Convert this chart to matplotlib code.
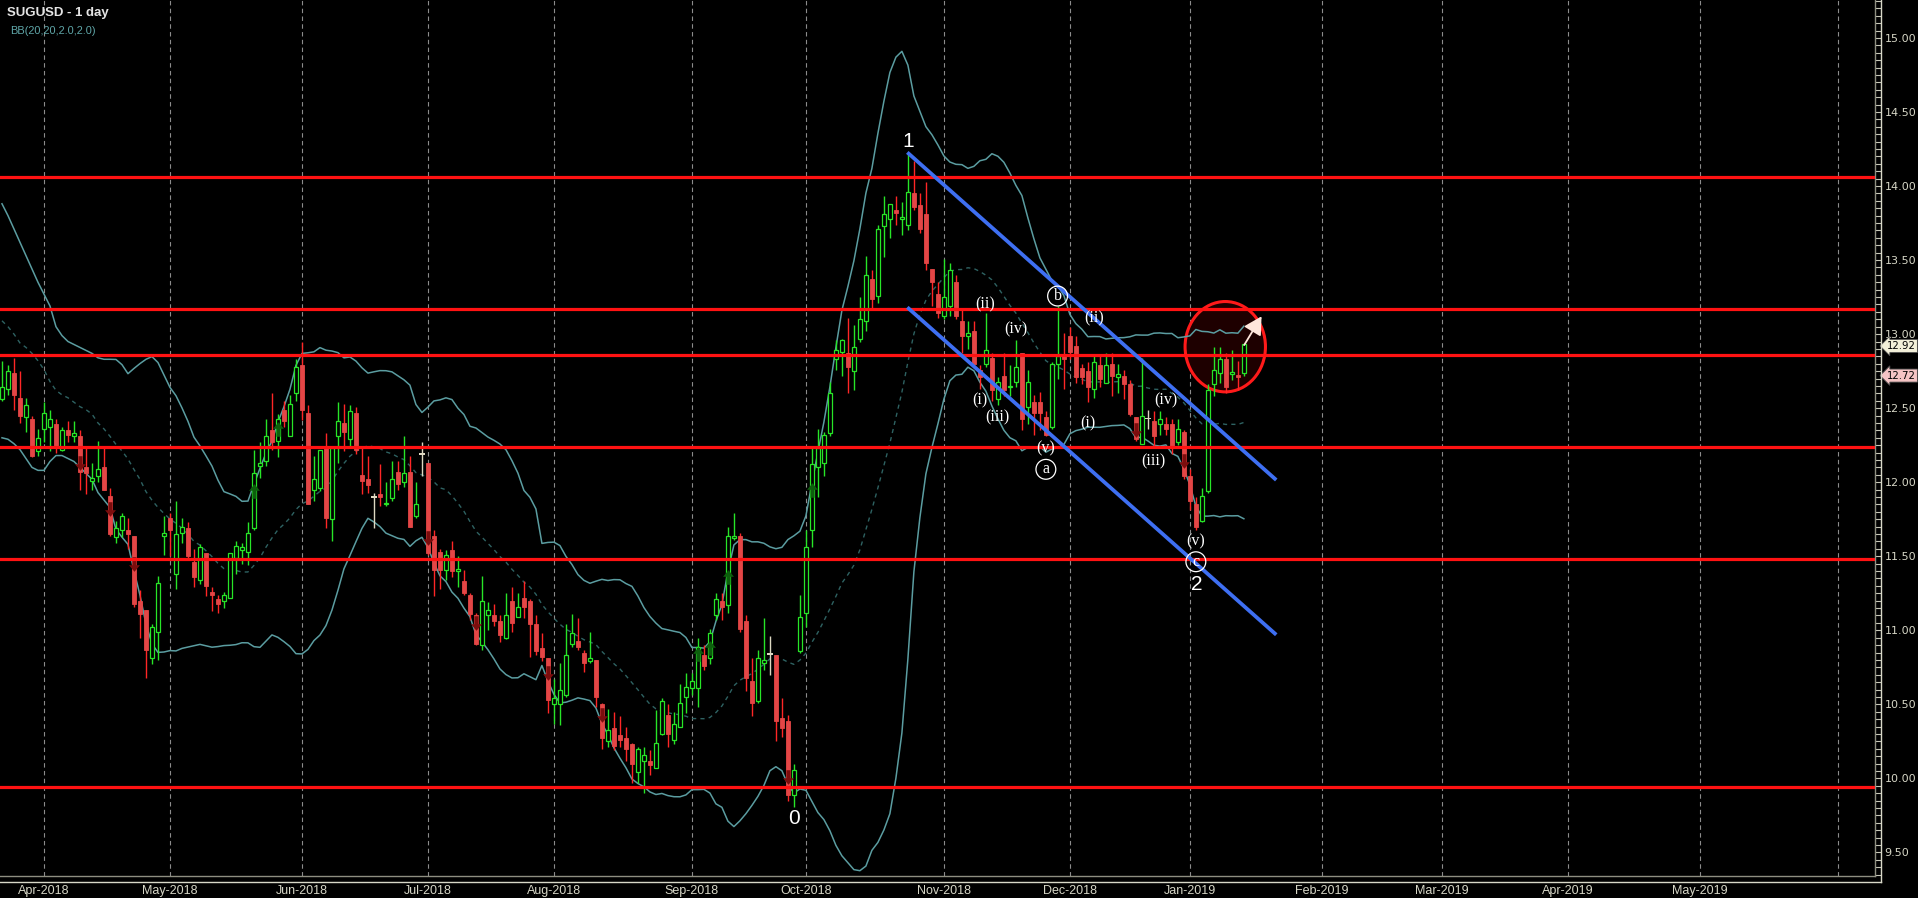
import numpy as np
import pandas as pd
import matplotlib
matplotlib.use('Agg')
import matplotlib.pyplot as plt
from matplotlib.patches import Ellipse
from matplotlib.path import Path
from matplotlib.lines import Line2D
from matplotlib.ticker import FormatStrFormatter
from matplotlib.transforms import blended_transform_factory

# bar index 0 = first trading day of Apr-2018, one bar per trading day
first_bar = -7

opens = [
    12.56, 12.63, 12.74, 12.57, 12.44, 12.43, 12.21,
    12.36, 12.37, 12.39, 12.22, 12.35, 12.31, 12.31, 12.10, 12.01, 12.04,
    12.10, 11.91, 11.63, 11.68, 11.68, 11.64, 11.20, 11.14, 10.81, 10.99,
    11.64, 11.76, 11.38, 11.66, 11.69, 11.46, 11.34, 11.52, 11.26, 11.21,
    11.20, 11.22, 11.49, 11.54, 11.53, 11.69, 12.11, 12.14, 12.35, 12.28,
    12.49, 12.31, 12.60, 12.79, 12.47, 11.95, 11.96, 12.23, 11.75, 12.31,
    12.40, 12.29, 12.47, 12.05, 12.02, 11.90, 11.92, 11.85, 11.89, 12.07,
    12.00, 12.07, 11.77, 12.19, 12.13, 11.64, 11.53, 11.41, 11.54, 11.40,
    11.33, 11.24, 11.10, 10.90, 11.10, 11.10, 11.06, 10.95, 11.20, 11.09,
    11.22, 11.20, 11.04, 10.88, 10.81, 10.50, 10.50, 10.56, 10.91, 10.93,
    10.85, 10.79, 10.80, 10.50, 10.25, 10.34, 10.29, 10.27, 10.23, 10.04,
    10.12, 10.12, 10.07, 10.30, 10.43, 10.26, 10.35, 10.55, 10.61, 10.61,
    10.83, 10.81, 11.10, 11.20, 11.17, 11.62, 11.64, 11.06, 10.66, 10.52,
    10.78, 10.84, 10.83, 10.41, 10.39, 9.89, 10.86, 11.12, 11.68, 12.10,
    12.13, 12.33, 12.83, 12.88, 12.87, 12.75, 12.97, 13.09, 13.37, 13.26,
    13.73, 13.78, 13.84, 13.78, 13.74, 13.95, 13.87, 13.81, 13.44, 13.27,
    13.12, 13.19, 13.35, 13.09, 12.99, 13.02, 12.76, 12.80, 12.84, 12.56,
    12.72, 12.64, 12.68, 12.87, 12.51, 12.54, 12.54, 12.44, 12.37, 12.80,
    12.85, 12.99, 12.92, 12.77, 12.75, 12.63, 12.79, 12.67, 12.80, 12.71,
    12.72, 12.66, 12.44, 12.26, 12.43, 12.41, 12.39, 12.39, 12.39, 12.27,
    12.34, 12.04, 11.85, 11.74, 11.94, 12.66, 12.74, 12.83, 12.73, 12.72, 12.74,
]
highs = [
    12.82, 12.79, 12.84, 12.75, 12.57, 12.45, 12.36,
    12.54, 12.49, 12.43, 12.37, 12.41, 12.41, 12.35, 12.23, 12.13, 12.28,
    12.23, 11.96, 11.74, 11.79, 11.76, 11.64, 11.27, 11.14, 11.04, 11.37,
    11.77, 11.79, 11.87, 11.76, 11.73, 11.55, 11.58, 11.52, 11.29, 11.24,
    11.26, 11.52, 11.60, 11.59, 11.73, 12.22, 12.27, 12.43, 12.60, 12.46,
    12.55, 12.59, 12.83, 12.95, 12.52, 12.18, 12.22, 12.33, 12.23, 12.54,
    12.53, 12.52, 12.51, 12.23, 12.18, 11.93, 12.12, 12.00, 12.14, 12.14,
    12.31, 12.18, 12.00, 12.27, 12.13, 11.68, 11.55, 11.54, 11.60, 11.50,
    11.41, 11.25, 11.12, 11.37, 11.19, 11.18, 11.10, 11.25, 11.29, 11.25,
    11.33, 11.21, 11.10, 10.98, 10.81, 10.67, 10.78, 11.04, 11.11, 11.08,
    10.87, 10.99, 10.80, 10.51, 10.47, 10.45, 10.42, 10.35, 10.24, 10.21,
    10.21, 10.19, 10.46, 10.54, 10.50, 10.45, 10.64, 10.71, 10.71, 10.95,
    10.90, 11.01, 11.25, 11.25, 11.70, 11.79, 11.66, 11.10, 10.81, 10.87,
    11.08, 10.96, 10.83, 10.54, 10.43, 10.10, 11.24, 11.68, 12.23, 12.36,
    12.34, 12.68, 12.96, 12.97, 13.11, 13.06, 13.25, 13.53, 13.43, 13.74,
    13.93, 13.88, 13.93, 13.89, 14.22, 14.17, 13.95, 14.03, 13.44, 13.35,
    13.51, 13.48, 13.40, 13.16, 13.09, 13.09, 12.79, 13.14, 12.87, 12.71,
    12.87, 12.79, 12.96, 12.87, 12.76, 12.59, 12.61, 12.48, 12.81, 13.19,
    13.01, 13.05, 12.99, 12.80, 12.81, 12.85, 12.85, 12.87, 12.87, 12.80,
    12.76, 12.69, 12.44, 12.84, 12.49, 12.48, 12.48, 12.44, 12.43, 12.43,
    12.35, 12.09, 11.90, 11.96, 12.66, 12.91, 12.91, 12.87, 12.89, 12.82, 12.93,
]
lows = [
    12.55, 12.59, 12.49, 12.40, 12.34, 12.17, 12.18,
    12.27, 12.21, 12.20, 12.21, 12.27, 12.27, 11.95, 11.92, 11.95, 12.00,
    11.95, 11.64, 11.59, 11.63, 11.55, 11.16, 10.95, 10.68, 10.77, 10.80,
    11.51, 11.50, 11.28, 11.59, 11.49, 11.29, 11.31, 11.23, 11.13, 11.12,
    11.15, 11.22, 11.38, 11.45, 11.44, 11.68, 12.03, 12.11, 12.22, 12.17,
    12.37, 12.31, 12.55, 12.42, 11.85, 11.87, 11.94, 11.69, 11.60, 12.13,
    12.21, 12.23, 12.19, 11.92, 11.93, 11.69, 11.84, 11.84, 11.87, 11.95,
    11.97, 11.70, 11.76, 12.04, 11.51, 11.23, 11.28, 11.34, 11.36, 11.29,
    11.24, 11.07, 10.90, 10.87, 11.00, 11.03, 10.92, 10.94, 10.99, 11.09,
    11.08, 10.82, 10.83, 10.79, 10.44, 10.37, 10.36, 10.55, 10.89, 10.87,
    10.72, 10.78, 10.48, 10.20, 10.21, 10.19, 10.21, 10.12, 9.97, 9.97,
    9.90, 10.02, 10.07, 10.29, 10.21, 10.23, 10.35, 10.44, 10.56, 10.48,
    10.73, 10.77, 11.07, 11.07, 11.12, 11.61, 10.99, 10.59, 10.42, 10.51,
    10.73, 10.70, 10.25, 10.28, 9.85, 9.81, 10.85, 11.02, 11.56, 11.90,
    12.04, 12.31, 12.76, 12.72, 12.60, 12.62, 12.95, 13.02, 13.17, 13.21,
    13.52, 13.65, 13.74, 13.67, 13.70, 13.84, 13.68, 13.43, 13.19, 13.11,
    13.10, 13.12, 13.10, 12.87, 12.90, 12.78, 12.63, 12.78, 12.55, 12.52,
    12.58, 12.58, 12.64, 12.35, 12.39, 12.32, 12.35, 12.31, 12.36, 12.70,
    12.63, 12.83, 12.67, 12.66, 12.54, 12.57, 12.64, 12.67, 12.58, 12.60,
    12.56, 12.45, 12.28, 12.26, 12.36, 12.24, 12.32, 12.32, 12.19, 12.25,
    12.02, 11.81, 11.68, 11.73, 11.93, 12.58, 12.67, 12.60, 12.69, 12.62, 12.72,
]
closes = [
    12.64, 12.75, 12.59, 12.45, 12.52, 12.18, 12.30,
    12.47, 12.43, 12.23, 12.35, 12.32, 12.33, 12.07, 12.06, 12.03, 12.09,
    11.95, 11.65, 11.69, 11.77, 11.65, 11.18, 11.11, 10.87, 11.02, 11.32,
    11.66, 11.68, 11.65, 11.70, 11.50, 11.36, 11.56, 11.30, 11.24, 11.18,
    11.24, 11.52, 11.57, 11.56, 11.66, 12.06, 12.13, 12.31, 12.27, 12.43,
    12.41, 12.53, 12.78, 12.49, 11.85, 12.02, 12.22, 11.76, 12.23, 12.41,
    12.34, 12.48, 12.22, 12.01, 11.98, 11.90, 11.90, 11.86, 12.02, 11.99,
    12.06, 11.70, 11.85, 12.19, 11.52, 11.41, 11.41, 11.51, 11.40, 11.41,
    11.25, 11.11, 10.91, 11.20, 11.14, 11.06, 10.97, 11.10, 11.05, 11.16,
    11.16, 11.04, 10.86, 10.82, 10.53, 10.54, 10.60, 10.83, 10.98, 10.89,
    10.78, 10.81, 10.55, 10.27, 10.33, 10.22, 10.26, 10.20, 10.10, 10.20,
    10.16, 10.09, 10.24, 10.52, 10.30, 10.37, 10.51, 10.62, 10.66, 10.89,
    10.76, 10.98, 11.21, 11.16, 11.64, 11.64, 11.01, 10.68, 10.51, 10.81,
    10.80, 10.84, 10.39, 10.34, 9.89, 10.06, 11.09, 11.56, 12.12, 12.23,
    12.32, 12.60, 12.89, 12.96, 12.78, 12.91, 13.10, 13.40, 13.24, 13.71,
    13.81, 13.88, 13.82, 13.79, 13.96, 13.86, 13.71, 13.48, 13.35, 13.14,
    13.25, 13.43, 13.12, 12.99, 13.01, 12.80, 12.71, 12.89, 12.62, 12.68,
    12.62, 12.65, 12.78, 12.43, 12.68, 12.47, 12.47, 12.32, 12.80, 12.85,
    12.83, 12.88, 12.71, 12.71, 12.64, 12.81, 12.70, 12.79, 12.72, 12.73,
    12.66, 12.46, 12.29, 12.45, 12.43, 12.31, 12.43, 12.36, 12.23, 12.36,
    12.04, 11.87, 11.70, 11.91, 12.62, 12.76, 12.83, 12.64, 12.74, 12.71, 12.93,
]

# band values for the first bars (before 20 closes exist)
bb_head_upper = [13.88, 13.80, 13.71, 13.62, 13.53, 13.44, 13.35, 13.27, 13.19, 13.05,
                 12.99, 12.95, 12.93, 12.91, 12.89, 12.87, 12.84, 12.83, 12.83]
bb_head_mid = [13.09, 13.05, 13.00, 12.94, 12.91, 12.87, 12.82, 12.76, 12.68, 12.62,
               12.59, 12.57, 12.54, 12.51, 12.49, 12.46, 12.40, 12.36, 12.31]
bb_head_lower = [12.30, 12.29, 12.26, 12.22, 12.16, 12.10, 12.08, 12.08, 12.14, 12.18,
                 12.18, 12.16, 12.14, 12.10, 12.06, 12.02, 11.93, 11.88, 11.83]

month_bars = [0, 21, 43, 64, 85, 108, 127, 150, 171, 191, 213, 233, 254, 276, 299]
month_labels = ['Apr-2018', 'May-2018', 'Jun-2018', 'Jul-2018', 'Aug-2018', 'Sep-2018',
                'Oct-2018', 'Nov-2018', 'Dec-2018', 'Jan-2019', 'Feb-2019', 'Mar-2019',
                'Apr-2019', 'May-2019', '']

levels = [14.06, 13.17, 12.86, 12.24, 11.48, 9.94]
channel_bars = [143.9, 205.4]
channel_top = [14.227, 12.015]
channel_bottom = [13.181, 10.970]

# (text, bar, price, circled)
wave_labels = [
    ('(ii)', 156.95, 13.20, False), ('(iv)', 162.0, 13.03, False),
    ('(i)', 156.0, 12.555, False), ('(iii)', 158.95, 12.44, False),
    ('(v)', 167.0, 12.23, False), ('a', 167.0, 12.087, True),
    ('b', 168.95, 13.257, True), ('(ii)', 175.05, 13.107, False),
    ('(i)', 173.95, 12.40, False), ('(iv)', 187.0, 12.555, False),
    ('(iii)', 184.9, 12.138, False), ('(v)', 192.0, 11.598, False),
    ('c', 192.0, 11.463, True),
]
pivot_labels = [('1', 144.05, 14.30), ('0', 125.05, 9.73), ('2', 192.1, 11.31)]

signal_up = [(35, 11.94), (39, 12.36), (109, 10.84), (111, 10.88), (114, 11.36), (128, 11.95)]
signal_down = [(6, 12.13), (11, 11.82), (15, 11.45), (64, 11.62), (72, 11.05), (84, 10.71),
               (93, 10.43), (124, 10.01), (182, 12.35), (190, 12.14)]

focus_center = (196.9, 12.915)
focus_size = (13.4, 0.61)
breakout_from = (200.05, 12.926)
breakout_to = (202.95, 13.12)
last_tag = 12.92
open_tag = 12.72

W, H = 1918, 898
fig = plt.figure(figsize=(W / 100, H / 100), dpi=100, facecolor='black')
ax = fig.add_axes([0, 22 / H, 1875 / W, 876 / H], facecolor='black')
ax.set_xlim(-7.33, 305.2)
ax.set_ylim(9.341, 15.256)

x = np.arange(len(closes)) + first_bar
o = np.array(opens)
hi = np.array(highs)
lo = np.array(lows)
c = np.array(closes)

# month grid
for b in month_bars:
    ax.axvline(b, color='#8c8c8c', lw=0.8, ls=(0, (4, 3)), zorder=0.5)

# bollinger bands
cs = pd.Series(c)
mid = cs.rolling(20).mean()
sd = cs.rolling(20).std(ddof=0)
upper = mid + 2 * sd
lower = mid - 2 * sd
nh = len(bb_head_mid)
upper.iloc[:nh] = bb_head_upper
mid.iloc[:nh] = bb_head_mid
lower.iloc[:nh] = bb_head_lower
ax.plot(x, upper, color='#5b9da1', lw=1.1, zorder=1)
ax.plot(x, lower, color='#5b9da1', lw=1.1, zorder=1)
ax.plot(x, mid, color='#2e6262', lw=1.0, ls=(0, (3, 3)), zorder=1)

# highlighted zone
ax.add_patch(Ellipse(focus_center, focus_size[0], focus_size[1], fc='#1e0000',
                     ec='#ff1a1a', lw=2.2, zorder=0.8))

# candles
green = '#27e527'
red_wick = '#ff2626'
red_body = '#e44646'
cream = '#ddd8c2'
up = c > o
down = c < o
flat = c == o
wick_col = np.where(up, green, np.where(down, red_wick, cream))
ax.vlines(x, lo, hi, colors=wick_col, lw=1.0, zorder=3)
body_lo = np.minimum(o, c)
body_h = np.maximum(np.abs(c - o), 0.012)
ax.bar(x[up], body_h[up], bottom=body_lo[up], width=0.72, facecolor='black',
       edgecolor=green, lw=0.9, zorder=3.5)
ax.bar(x[down], body_h[down], bottom=body_lo[down], width=0.72, facecolor=red_body,
       edgecolor=red_body, lw=0.6, zorder=3.5)
ax.bar(x[flat], 0.008, bottom=o[flat] - 0.004, width=0.9, color=cream, zorder=3.5)

# signal arrows
verts = [(0, 1), (0.75, 0.1), (0.28, 0.1), (0.28, -1), (-0.28, -1), (-0.28, 0.1), (-0.75, 0.1), (0, 1)]
codes = [Path.MOVETO] + [Path.LINETO] * 6 + [Path.CLOSEPOLY]
up_marker = Path(verts, codes)
down_marker = Path([(vx, -vy) for vx, vy in verts], codes)
ax.scatter([p[0] for p in signal_up], [p[1] for p in signal_up], marker=up_marker,
           s=110, color='#0d5f0d', zorder=3.8, linewidths=0)
ax.scatter([p[0] for p in signal_down], [p[1] for p in signal_down], marker=down_marker,
           s=110, color='#7c0d0d', zorder=3.8, linewidths=0)

# levels and channel
for lv in levels:
    ax.axhline(lv, color='#ff1212', lw=2.3, zorder=4)
ax.plot(channel_bars, channel_top, color='#3e6ff2', lw=2.7, solid_capstyle='butt', zorder=4)
ax.plot(channel_bars, channel_bottom, color='#3e6ff2', lw=2.7, solid_capstyle='butt', zorder=4)

ax.annotate('', xy=breakout_to, xytext=breakout_from,
            arrowprops=dict(arrowstyle='-|>,head_length=0.9,head_width=0.5', color='#ffe6dc',
                            lw=1.3, shrinkA=0, shrinkB=0, mutation_scale=12), zorder=6)

# wave labels
serif = ['Liberation Serif', 'DejaVu Serif']
for txt, bx, py, circ in wave_labels:
    kw = {}
    if circ:
        kw['bbox'] = dict(boxstyle='circle,pad=0.12', fc='none', ec='white', lw=0.9)
    ax.text(bx, py, txt, family=serif, fontsize=11.5, color='white', ha='center',
            va='center', zorder=6, **kw)
for txt, bx, py in pivot_labels:
    ax.text(bx, py, txt, family=['Liberation Sans', 'DejaVu Sans'], fontsize=15,
            color='white', ha='center', va='center', zorder=6)

# axes styling
for s in ['top', 'left']:
    ax.spines[s].set_visible(False)
for s in ['right', 'bottom']:
    ax.spines[s].set_color('#8e8e80')
    ax.spines[s].set_linewidth(1.0)

ax.yaxis.tick_right()
ax.set_yticks(np.arange(9.5, 15.01, 0.5))
ax.set_yticks(np.arange(9.35, 15.26, 0.05), minor=True)
ax.yaxis.set_major_formatter(FormatStrFormatter('%.2f'))
ax.tick_params(axis='y', which='major', length=4, width=0.8, color='#c8c8b8',
               labelcolor='#d6d6c6', labelsize=8, pad=2.8)
ax.tick_params(axis='y', which='minor', length=4, width=0.8, color='#c8c8b8')
ax.set_xticks(month_bars)
ax.set_xticklabels(month_labels, family=['Liberation Sans', 'DejaVu Sans'], fontsize=9)
ax.tick_params(axis='x', length=0, labelcolor='#d6d6c6', pad=6.5)

# outer axis frame
fig.add_artist(Line2D([1880.5 / W] * 2, [1 - 882 / H, 1], color='#d8d8c8', lw=1.0))
fig.add_artist(Line2D([0, 1880.5 / W], [1 - 882 / H] * 2, color='#d8d8c8', lw=1.0))

# price tags
tag_tr = blended_transform_factory(ax.transAxes, ax.transData)
ax.text(1887 / 1875, last_tag, f'{last_tag:.2f}', transform=tag_tr, fontsize=7.3, color='black',
        ha='left', va='center', clip_on=False, zorder=7,
        bbox=dict(boxstyle='larrow,pad=0.15', fc='#f2efd8', ec='#505050', lw=0.6))
ax.text(1887 / 1875, open_tag, f'{open_tag:.2f}', transform=tag_tr, fontsize=7.3, color='black',
        ha='left', va='center', clip_on=False, zorder=7,
        bbox=dict(boxstyle='larrow,pad=0.15', fc='#f5c4c4', ec='#505050', lw=0.6))

fig.text(7 / W, 1 - 12.7 / H, 'SUGUSD - 1 day', family=['Liberation Sans', 'DejaVu Sans'],
         fontsize=9.5, fontweight='bold', color='#e4e4e4', va='center', ha='left')
fig.text(10 / W, 1 - 30.7 / H, 'BB(20,20,2.0,2.0)', family=['Liberation Sans', 'DejaVu Sans'],
         fontsize=7.9, color='#5fa6a8', va='center', ha='left')

fig.savefig('out.png', dpi=100, facecolor='black')
